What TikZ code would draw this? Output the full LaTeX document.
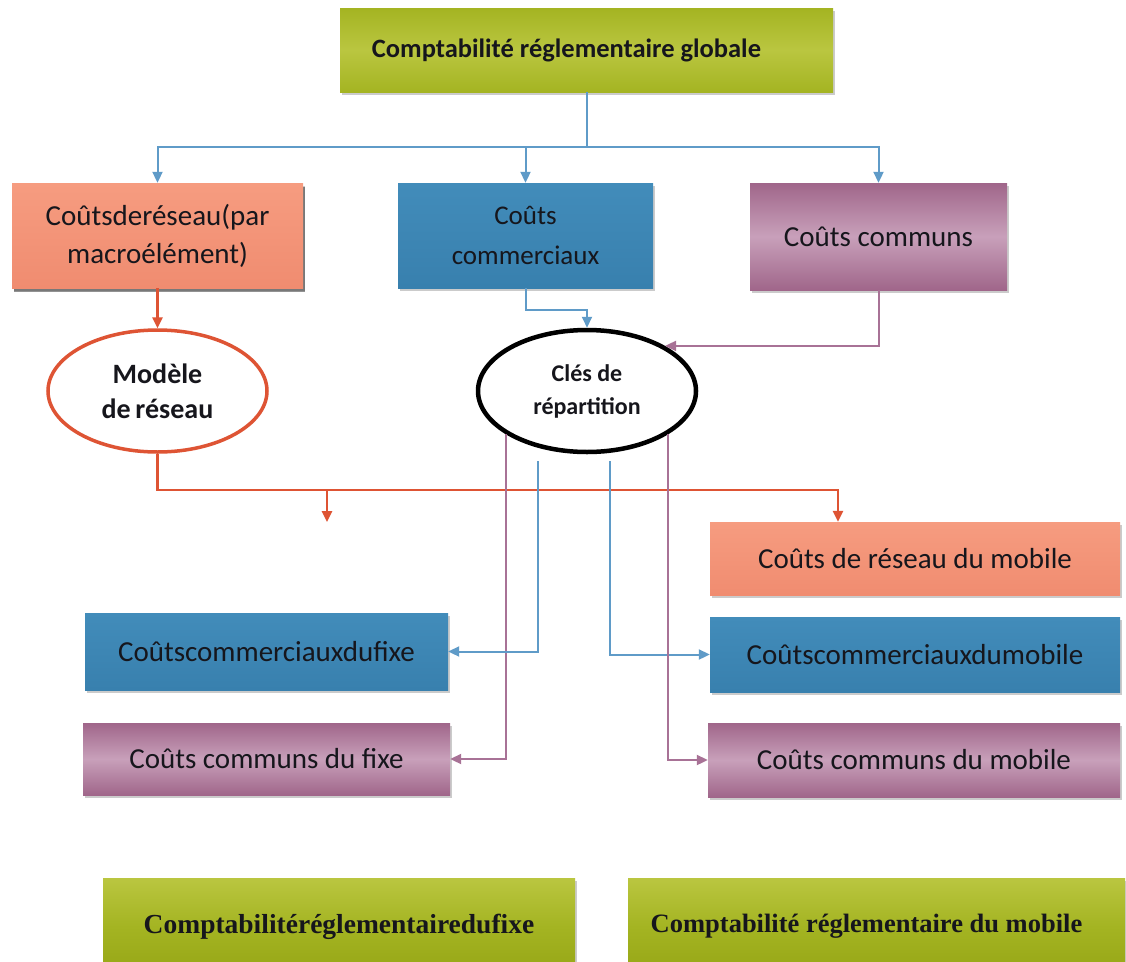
\documentclass[tikz,border=0pt]{standalone}
\usepackage{fontspec}
\setmainfont{Carlito}
\newfontfamily\serifhead{Liberation Serif}
\usetikzlibrary{arrows.meta,shadows,shapes.geometric}

\definecolor{boxgreen}{RGB}{164,180,34}
\definecolor{boxgreenlight}{RGB}{186,198,64}
\definecolor{boxgreendark}{RGB}{150,166,22}
\definecolor{boxsalmon}{RGB}{240,140,112}
\definecolor{boxsalmonlight}{RGB}{246,156,128}
\definecolor{boxblue}{RGB}{56,128,174}
\definecolor{boxbluelight}{RGB}{66,140,186}
\definecolor{boxmauve}{RGB}{160,102,138}
\definecolor{boxmauvelight}{RGB}{200,160,186}
\definecolor{lineblue}{RGB}{95,155,200}
\definecolor{linered}{RGB}{222,84,52}
\definecolor{linemauve}{RGB}{168,114,150}
\definecolor{inkdark}{RGB}{22,22,28}

\begin{document}
\begin{tikzpicture}[x=1pt,y=-1pt,
	costbox/.style={rectangle,inner sep=0pt,align=center,text=inkdark,
		font=\fontsize{29}{38}\selectfont,
		drop shadow={shadow xshift=2pt,shadow yshift=-3pt,fill=black!40}},
	greenbox/.style={costbox,top color=boxgreen,bottom color=boxgreen,middle color=boxgreenlight},
	salmonbox/.style={costbox,top color=boxsalmonlight,bottom color=boxsalmon},
	bluebox/.style={costbox,top color=boxbluelight,bottom color=boxblue},
	mauvebox/.style={costbox,top color=boxmauve,bottom color=boxmauve,middle color=boxmauvelight},
	keyoval/.style={ellipse,inner sep=0pt,align=center,fill=white,text=inkdark,
		font=\bfseries\fontsize{24}{33}\selectfont},
	flow/.style={line width=2pt,-{Triangle[length=11pt,width=10pt]}},
	blueflow/.style={flow,lineblue},
	redflow/.style={flow,linered,line width=2.5pt},
	mauveflow/.style={flow,linemauve}]

	\useasboundingbox (0,0) rectangle (1126,961);
	\fill[white] (0,0) rectangle (1126,961);

	% top level
	\node[greenbox,minimum width=493pt,minimum height=84pt,font=\bfseries\fontsize{26.5}{30}\selectfont] (global) at (586.5,50) {Comptabilité réglementaire globale\hspace*{40pt}};

	\node[salmonbox,minimum width=291pt,minimum height=105pt,
		drop shadow={shadow xshift=2pt,shadow yshift=-4pt,fill=black!85}] (netcost) at (157.5,235.5) {Coûtsderéseau(par\\macroélément)};
	\node[bluebox,minimum width=255pt,minimum height=105pt,font=\fontsize{27}{40}\selectfont] (comcost) at (525.5,235.5) {Coûts\\commerciaux};
	\node[mauvebox,minimum width=257pt,minimum height=107pt] (commoncost) at (878.5,236.5) {Coûts communs};

	\draw[blueflow] (global.south) -- ++(0,55) -| (netcost.north);
	\draw[blueflow] (global.south) -- ++(0,55) -| (comcost.north);
	\draw[blueflow] (global.south) -- ++(0,55) -| (commoncost.north);

	% models
	\node[keyoval,draw=linered,line width=3.5pt,minimum width=219pt,minimum height=122pt,
		font=\bfseries\fontsize{28}{35}\selectfont] (netmodel) at (157.5,391) {Modèle\\de\,réseau};
	\node[keyoval,draw=black,line width=4.5pt,minimum width=218pt,minimum height=122pt] (keys) at (587,391) {Clés de\\répartition};

	\draw[redflow] (netcost.south) -- (netmodel.north);
	\draw[blueflow] (comcost.south) -- ++(0,22) -| (keys.north);
	\draw[mauveflow] (commoncost.south) |- (keys.30);

	% fixed / mobile split
	\node[salmonbox,minimum width=410pt,minimum height=73pt] (netmobile) at (915,558.5) {Coûts de réseau du mobile};
	\node[bluebox,minimum width=363pt,minimum height=77pt] (comfixed) at (266.5,651.5) {Coûtscommerciauxdufixe};
	\node[bluebox,minimum width=410pt,minimum height=75pt] (commobile) at (915,654.5) {Coûtscommerciauxdumobile};
	\node[mauvebox,minimum width=367pt,minimum height=72pt] (commonfixed) at (266.5,759) {Coûts communs du fixe};
	\node[mauvebox,minimum width=412pt,minimum height=74pt] (commonmobile) at (914,760) {Coûts communs du mobile};

	\coordinate (netfixed) at (327,522);
	\draw[redflow] (netmodel.south) -- ++(0,36) -| (netfixed);
	\draw[redflow] (netmodel.south) -- ++(0,36) -| ([xshift=-77pt]netmobile.north);

	\draw[mauveflow] (keys.208) |- (commonfixed.east);
	\draw[blueflow] ([xshift=-49pt,yshift=-7pt]keys.south) |- (comfixed.east);
	\draw[blueflow] ([xshift=23pt,yshift=-7pt]keys.south) |- (commobile.west);
	\draw[mauveflow] (keys.332) |- (commonmobile.west);

	% regulatory accounts
	\node[greenbox,top color=boxgreenlight,bottom color=boxgreendark,middle color=boxgreen,
		minimum width=472pt,minimum height=97pt,font=\serifhead\bfseries\fontsize{27.5}{30}\selectfont] (regfixed) at (339,926.5) {Comptabilitéréglementairedufixe};
	\node[greenbox,top color=boxgreenlight,bottom color=boxgreendark,middle color=boxgreen,
		minimum width=497pt,minimum height=97pt,font=\serifhead\bfseries\fontsize{26.5}{30}\selectfont] (regmobile) at (876.5,926.5) {Comptabilité réglementaire du mobile\hspace*{20pt}};
\end{tikzpicture}
\end{document}
